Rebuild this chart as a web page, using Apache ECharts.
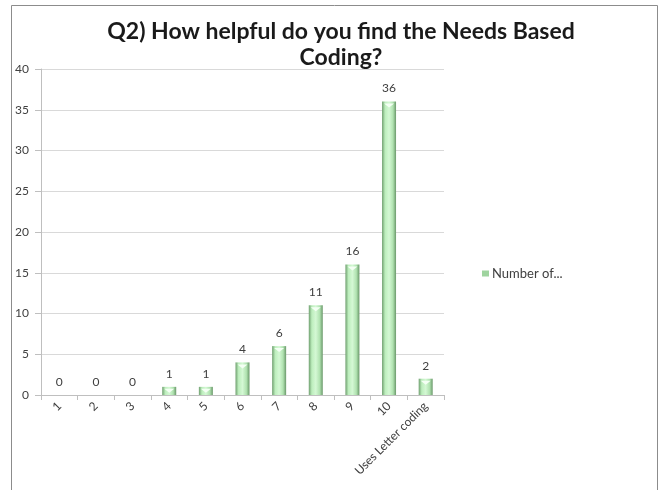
<!DOCTYPE html>
<html>
<head>
<meta charset="utf-8">
<script src="https://cdn.jsdelivr.net/npm/echarts@6/dist/echarts.min.js"></script>
<style>
  html, body { margin: 0; padding: 0; background: #ffffff; }
  #chart { width: 665px; height: 490px; }
</style>
</head>
<body>
<div id="chart"></div>
<script>
// Survey answers: how helpful is Needs Based Coding
const categories = ['1', '2', '3', '4', '5', '6', '7', '8', '9', '10', 'Uses Letter coding'];
const counts = [0, 0, 0, 1, 1, 4, 6, 11, 16, 36, 2];
const seriesName = 'Number of...';
const titleLines = ['Q2) How helpful do you find the Needs Based', 'Coding?'];

const FONT = 'Lato, "Open Sans", sans-serif';

const barFill = new echarts.graphic.LinearGradient(0, 0, 1, 0, [
  { offset: 0, color: '#6f9f6f' },
  { offset: 0.22, color: '#bdeebd' },
  { offset: 0.5, color: '#d4f8d4' },
  { offset: 0.78, color: '#b0e2b0' },
  { offset: 1, color: '#6a986a' }
]);

const chart = echarts.init(document.getElementById('chart'), null, { renderer: 'canvas' });

chart.setOption({
  animation: false,
  backgroundColor: '#ffffff',
  title: {
    text: titleLines.join('\n'),
    left: 336,
    top: 14,
    textAlign: 'center',
    textStyle: {
      fontFamily: FONT,
      fontWeight: 'bold',
      fontSize: 23,
      lineHeight: 26,
      color: '#1a1a1a'
    }
  },
  legend: {
    orient: 'vertical',
    left: 477,
    top: 262,
    itemWidth: 7,
    itemHeight: 6,
    itemGap: 4,
    data: [{ name: seriesName, icon: 'rect', itemStyle: { color: '#9fd49f' } }],
    textStyle: { fontFamily: FONT, fontSize: 13, color: '#404040', padding: [0, 0, 0, -2] }
  },
  grid: { left: 41, right: 221, top: 69, bottom: 95, containLabel: false },
  xAxis: {
    type: 'category',
    data: categories,
    axisLine: { show: true, lineStyle: { color: '#bfbfbf', width: 1 } },
    axisTick: { show: true, length: 5, alignWithLabel: false, lineStyle: { color: '#bfbfbf' } },
    axisLabel: {
      rotate: 45,
      interval: 0,
      margin: 9,
      fontFamily: FONT,
      fontSize: 12,
      color: '#404040'
    },
    splitLine: { show: false }
  },
  yAxis: {
    type: 'value',
    min: 0,
    max: 40,
    interval: 5,
    axisLine: { show: true, lineStyle: { color: '#bfbfbf', width: 1 } },
    axisTick: { show: true, length: 6, lineStyle: { color: '#bfbfbf' } },
    axisLabel: {
      margin: 12,
      fontFamily: FONT,
      fontSize: 12,
      color: '#404040'
    },
    splitLine: { show: true, lineStyle: { color: '#d9d9d9', width: 1 } }
  },
  series: [
    {
      name: seriesName,
      type: 'bar',
      data: counts,
      barWidth: 14,
      itemStyle: { color: barFill },
      label: {
        show: true,
        position: 'top',
        distance: 7,
        fontFamily: FONT,
        fontSize: 12,
        color: '#404040'
      }
    },
    {
      // bevelled cap drawn on top of each bar
      name: 'cap',
      type: 'pictorialBar',
      data: counts.map(v => (v > 0 ? v : null)),
      symbol: 'path://M0,0 L10,0 L5,6 Z',
      symbolSize: [10, 4],
      symbolPosition: 'end',
      symbolOffset: [0, 2],
      itemStyle: { color: '#f4fff4' },
      silent: true,
      z: 3,
      legendHoverLink: false
    }
  ],
  graphic: [
    {
      type: 'rect',
      shape: { x: 11.5, y: 5.5, width: 646, height: 500 },
      style: { fill: 'none', stroke: '#8c8c8c', lineWidth: 1 },
      silent: true
    }
  ]
});
</script>
</body>
</html>
